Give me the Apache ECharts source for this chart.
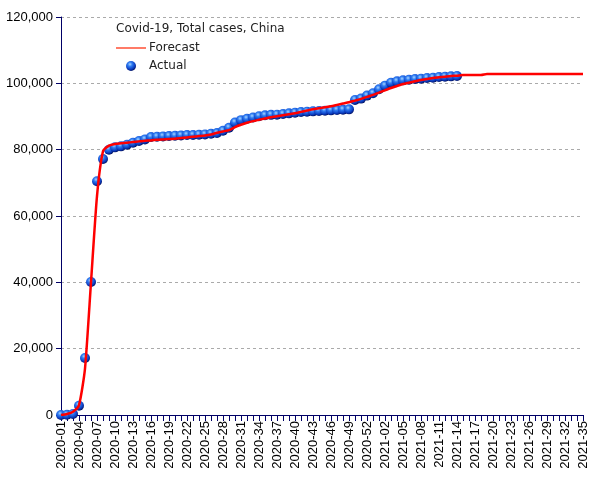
<!DOCTYPE html>
<html>
<head>
<meta charset="utf-8">
<script src="https://cdn.jsdelivr.net/npm/echarts@6/dist/echarts.min.js"></script>
<style>html,body{margin:0;padding:0;background:#fff}#c{width:605px;height:480px}</style>
</head>
<body>
<div id="c"></div>
<script>
// Week labels 2020-01 .. 2020-53, 2021-01 .. 2021-35
var weeks2020 = 53, weeks2021 = 35;
var categories = [];
for (var w = 1; w <= weeks2020; w++) categories.push('2020-' + (w < 10 ? '0' + w : w));
for (var w2 = 1; w2 <= weeks2021; w2++) categories.push('2021-' + (w2 < 10 ? '0' + w2 : w2));

var actual = [0, 50, 300, 2800, 17200, 40100, 70500, 77200,
  80000, 80700, 81000, 81500, 82100, 82600, 83100, 83800, 83900, 84000, 84100, 84200, 84300, 84400, 84400, 84500, 84600, 84800,
  85000, 85700, 86600, 88200, 88900, 89300, 89700, 90100, 90350, 90500, 90550, 90750, 90950, 91150, 91350, 91450, 91550, 91650, 91750, 91850, 91950, 92050, 92150,
  95000, 95400, 96300, 97000, 98200, 99300, 100200, 100600, 100900, 101100, 101300, 101400, 101600, 101700, 101900, 102000, 102100, 102200];

var forecast = [0, 300, 1000, 3000, 14000, 40000, 66000, 79500,
  81200, 81700, 81900, 82100, 82300, 82500, 82700, 82800, 83000, 83100, 83200, 83300, 83500, 83700, 83900, 84100, 84300, 84600,
  85100, 85500, 85900, 86800, 87500, 88100, 88600, 89000, 89400, 89800, 90100, 90400, 90700, 91000, 91400, 91800, 92200, 92500, 92800, 93100, 93500, 93900, 94300,
  94800, 95300, 95900, 96500, 97200, 97900, 98600, 99200, 99800, 100200, 100600, 101000, 101300, 101600, 101800, 102000, 102200, 102300,
  102500, 102500, 102500, 102500,
  102800, 102800, 102800, 102800, 102800, 102800, 102800, 102800, 102800, 102800, 102800, 102800, 102800, 102800, 102800, 102800, 102800];

var titleText = 'Covid-19, Total cases, China';
var seriesNames = ['Forecast', 'Actual'];

var ball = {
  type: 'radial', x: 0.4, y: 0.33, r: 0.72,
  colorStops: [
    {offset: 0, color: '#a8d4ff'},
    {offset: 0.3, color: '#2f7cf2'},
    {offset: 0.7, color: '#0b3cc0'},
    {offset: 1, color: '#00084d'}
  ]
};

var chart = echarts.init(document.getElementById('c'), null, {renderer: 'canvas'});
chart.setOption({
  backgroundColor: '#ffffff',
  animation: false,
  title: {
    text: titleText, left: 116, top: 23, padding: 0,
    textStyle: {fontFamily: 'DejaVu Sans', fontSize: 12, fontWeight: 'normal', color: '#222'}
  },
  legend: {
    orient: 'vertical', left: 116, top: 42, padding: 0,
    itemWidth: 30, itemHeight: 10, itemGap: 6,
    textStyle: {fontFamily: 'DejaVu Sans', fontSize: 12, color: '#222', padding: [0, 0, 0, -2]},
    data: [
      {name: 'Forecast', icon: 'path://M0,0 L40,0 L40,1.6 L0,1.6 Z', itemStyle: {color: '#ff2200'}},
      {name: 'Actual', icon: 'circle', itemStyle: {color: ball, opacity: 1}}
    ]
  },
  grid: {left: 61, right: 22, top: 17, bottom: 65, containLabel: false},
  xAxis: {
    type: 'category', data: categories, boundaryGap: false,
    axisLine: {lineStyle: {color: '#000066', width: 1}},
    axisTick: {show: true, interval: 0, length: 6, lineStyle: {color: '#000066'}},
    axisLabel: {interval: 2, rotate: 90, fontFamily: 'Liberation Sans', fontSize: 13, color: '#000', margin: 6},
    splitLine: {show: false}
  },
  yAxis: {
    type: 'value', min: 0, max: 120000, interval: 20000,
    axisLine: {show: true, lineStyle: {color: '#000066', width: 1}},
    axisTick: {show: true, length: 5, lineStyle: {color: '#000066'}},
    axisLabel: {fontFamily: 'Liberation Sans', fontSize: 13, color: '#000', margin: 8,
      formatter: function (v) { return v.toLocaleString('en-US'); }},
    splitLine: {show: true, lineStyle: {color: '#aaaaaa', type: [3, 3], width: 1}}
  },
  series: [
    {
      name: 'Forecast', type: 'line', data: forecast, symbol: 'none', smooth: 0.2,
      lineStyle: {color: '#ff0000', width: 2.5}, itemStyle: {color: '#ff0000'}, z: 3
    },
    {
      name: 'Actual', type: 'scatter', data: actual, symbol: 'circle', symbolSize: 10,
      itemStyle: {color: ball, opacity: 1}, z: 2
    }
  ]
});
</script>
</body>
</html>
